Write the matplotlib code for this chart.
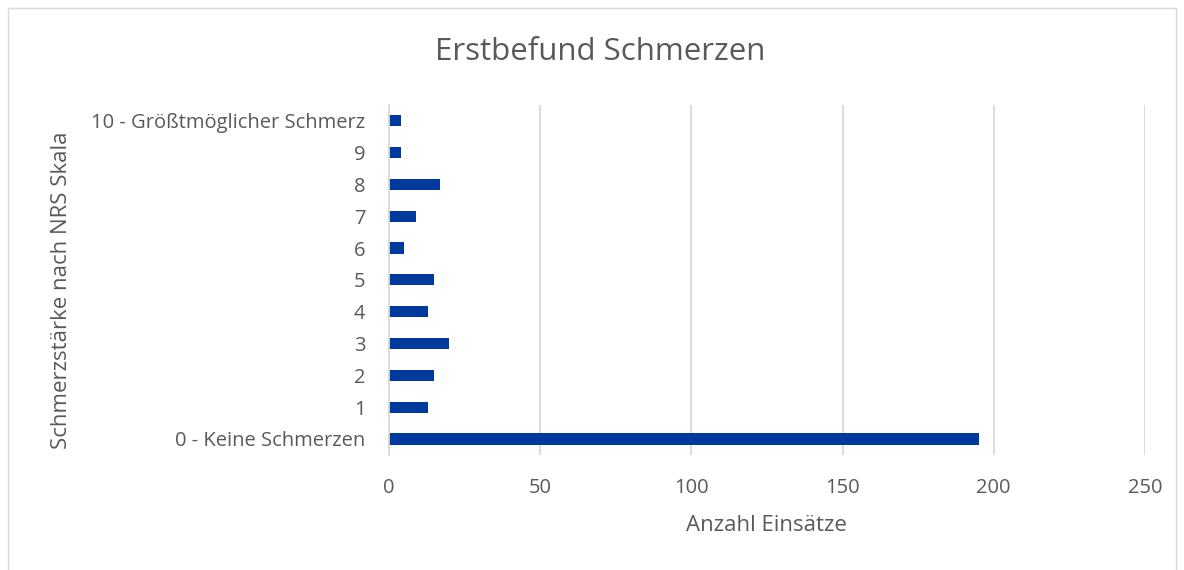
import matplotlib.pyplot as plt
from matplotlib.patches import Rectangle

categories = ['0 - Keine Schmerzen', '1', '2', '3', '4', '5', '6', '7', '8', '9',
              '10 - Größtmöglicher Schmerz']
counts = [195, 13, 15, 20, 13, 15, 5, 9, 17, 4, 4]
xticks = [0, 50, 100, 150, 200, 250]

text_col = '#595959'
grid_col = '#D9D9D9'
bar_col = '#003A9E'

plt.rcParams['font.family'] = ['Open Sans', 'DejaVu Sans']

fig = plt.figure(figsize=(11.84, 5.70), dpi=100)
ax = fig.add_axes([0.3285, 0.202, 0.6385, 0.614])

ax.barh(range(len(categories)), counts, height=0.35, color=bar_col, zorder=3)
ax.set_xlim(0, 250)
ax.set_ylim(-0.5, len(categories) - 0.5)
ax.set_xticks(xticks)
ax.set_yticks(range(len(categories)))
ax.set_yticklabels(categories)
ax.tick_params(axis='both', length=0, colors=text_col, labelsize=14.5)
ax.tick_params(axis='x', pad=17)
ax.tick_params(axis='y', pad=17)
ax.grid(axis='x', color=grid_col, linewidth=1.3, zorder=0)
for s in ['top', 'right', 'bottom']:
    ax.spines[s].set_visible(False)
ax.spines['left'].set_color(grid_col)
ax.spines['left'].set_linewidth(1.3)
ax.spines['left'].set_zorder(4)

ax.set_xlabel('Anzahl Einsätze', color=text_col, fontsize=16, labelpad=12)
fig.text(0.5065, 0.909, 'Erstbefund Schmerzen', ha='center', va='center',
         color=text_col, fontsize=22.5)
fig.text(0.052, 0.49, 'Schmerzstärke nach NRS Skala', ha='center', va='center',
         rotation=90, color=text_col, fontsize=16)

fig.patches.append(Rectangle((8 / 1184, -0.1), 1168 / 1184, 1.1 - 8 / 570,
                             transform=fig.transFigure, fill=False,
                             edgecolor=grid_col, linewidth=1))

plt.savefig('out.png')
